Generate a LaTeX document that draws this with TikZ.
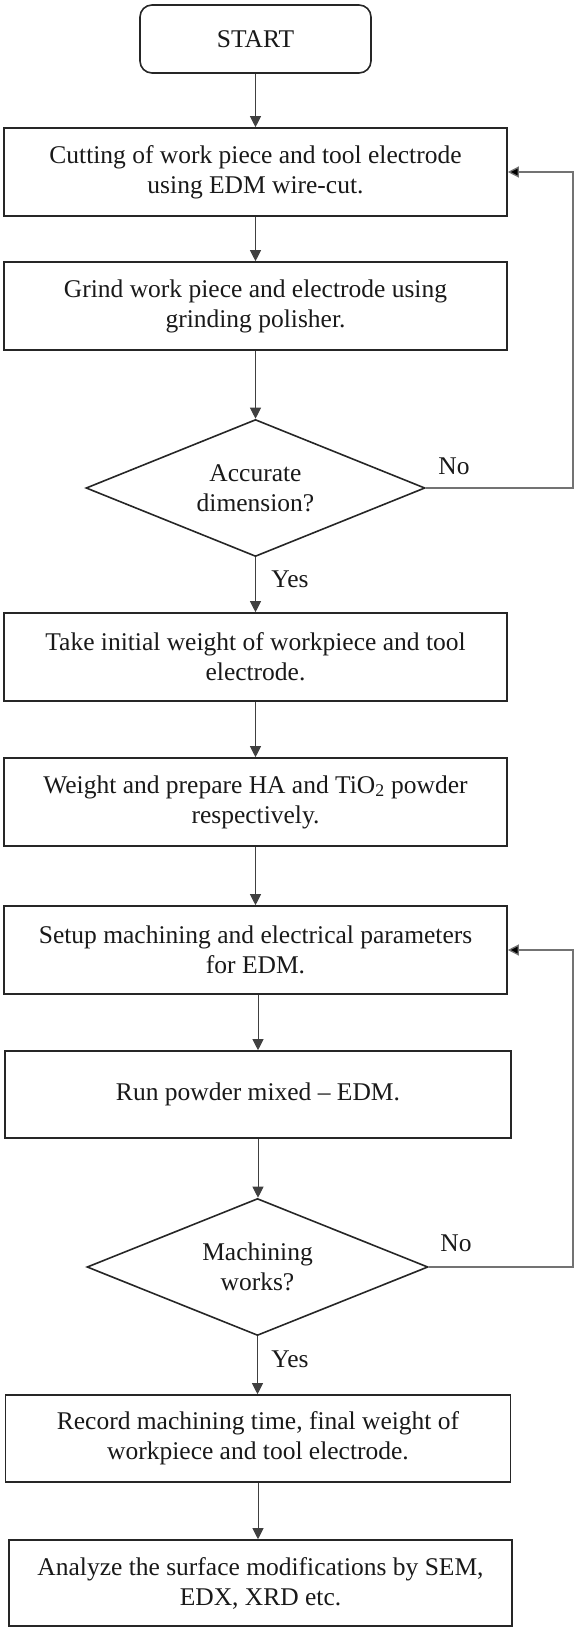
\documentclass[tikz,border=0pt]{standalone}
\usepackage{fontspec}
\setmainfont{Liberation Serif}
\usetikzlibrary{shapes.geometric,arrows.meta}
\begin{document}
\begin{tikzpicture}[x=1pt,y=-1pt,
  every node/.style={font=\fontsize{25.5}{30}\selectfont, text=black!90},
  procbox/.style={draw=black!85, line width=1.6pt, rectangle, minimum height=88pt, minimum width=503pt, align=center, inner sep=0pt},
  termbox/.style={draw=black!85, line width=1.6pt, rectangle, rounded corners=12pt, minimum width=231pt, minimum height=68pt, inner sep=0pt},
  decbox/.style={draw=black!85, line width=1.6pt, diamond, aspect=2.5, minimum width=339pt, minimum height=137pt, align=center, inner sep=0pt},
  flow/.style={draw=black!75, line width=1pt, -{Triangle[length=11pt,width=11pt]}},
  back/.style={draw=black!55, line width=1.3pt, -{Triangle[length=11pt,width=11pt,fill=black]}},
  lbl/.style={inner sep=0pt}
]
\useasboundingbox (0,0) rectangle (574,1627);
\node[termbox] (start) at (255.5,39) {START};
\node[procbox] (b1) at (255.5,172) {Cutting of work piece and tool electrode\\using EDM wire-cut.};
\node[procbox] (b2) at (255.5,306) {Grind work piece and electrode using\\grinding polisher.};
\node[decbox] (d1) at (255.5,488) {Accurate\\dimension?};
\node[procbox] (b3) at (255.5,657) {Take initial weight of workpiece and tool\\electrode.};
\node[procbox] (b4) at (255.5,802) {Weight and prepare HA and TiO\textsubscript{2} powder\\respectively.};
\node[procbox] (b5) at (255.5,950) {Setup machining and electrical parameters\\for EDM.};
\node[procbox, minimum width=506pt, minimum height=87pt] (b6) at (258,1094.5) {Run powder mixed -- EDM.};
\node[decbox, minimum width=341pt] (d2) at (257.5,1267) {Machining\\works?};
\node[procbox, minimum width=505pt, minimum height=87pt] (b7) at (258,1438.5) {Record machining time, final weight of\\workpiece and tool electrode.};
\node[procbox, minimum width=503pt, minimum height=86pt] (b8) at (260.5,1583) {Analyze the surface modifications by SEM,\\EDX, XRD etc.};

\coordinate (r1) at (573,488);
\coordinate (r2) at (573,1267);

\draw[flow] (start.south) -- (start.south |- b1.north);
\draw[flow] (b1.south) -- (b1.south |- b2.north);
\draw[flow] (b2.south) -- (d1.north);
\draw[flow] (d1.south) -- (d1.south |- b3.north);
\draw[flow] (b3.south) -- (b3.south |- b4.north);
\draw[flow] (b4.south) -- (b4.south |- b5.north);
\draw[flow] ([xshift=2.5pt]b5.south) -- ([xshift=2.5pt]b5.south |- b6.north);
\draw[flow] (b6.south) -- (b6.south |- d2.north);
\draw[flow] (d2.south) -- (d2.south |- b7.north);
\draw[flow] (b7.south) -- (b7.south |- b8.north);

\draw[back] (d1.east) -- (r1) |- (b1.east);
\draw[back] (d2.east) -- (r2) |- (b5.east);

\node[lbl] (no1) at (454,466) {No};
\node[lbl] (yes1) at (290,579) {Yes};
\node[lbl] (no2) at (456,1243) {No};
\node[lbl] (yes2) at (290,1359) {Yes};
\end{tikzpicture}
\end{document}
